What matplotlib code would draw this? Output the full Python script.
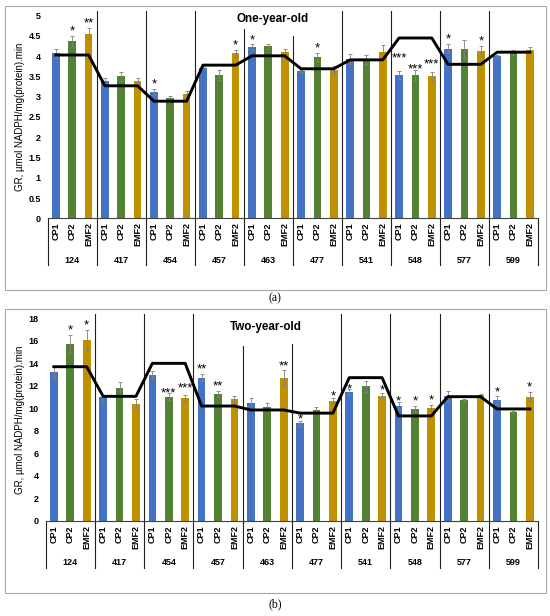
import numpy as np
import matplotlib
matplotlib.use("Agg")
import matplotlib.pyplot as plt
import matplotlib.transforms as mtransforms
from matplotlib.patches import Rectangle

plt.rcParams["font.family"] = ["Liberation Sans", "DejaVu Sans"]

groups = ["124", "417", "454", "457", "463", "477", "541", "548", "577", "599"]
treatments = ["CP1", "CP2", "EMF2"]
colors = ["#4472C4", "#548235", "#BF9000"]
ylabel = "GR, µmol NADPH/mg(protein).min"

# one-year-old
one_cp1 = [4.07, 3.40, 3.12, 3.71, 4.22, 3.63, 3.94, 3.54, 4.19, 4.00]
one_cp2 = [4.38, 3.50, 2.97, 3.53, 4.24, 3.99, 3.92, 3.53, 4.17, 4.09]
one_emf2 = [4.56, 3.39, 3.06, 4.07, 4.10, 3.67, 4.11, 3.50, 4.13, 4.15]
one_cp1_err = [0.11, 0.07, 0.07, 0.02, 0.07, 0.03, 0.12, 0.10, 0.12, 0.03]
one_cp2_err = [0.12, 0.12, 0.05, 0.12, 0.05, 0.10, 0.10, 0.12, 0.22, 0.07]
one_emf2_err = [0.14, 0.08, 0.09, 0.08, 0.07, 0.10, 0.16, 0.12, 0.12, 0.08]
one_control = [4.03, 3.27, 2.89, 3.78, 4.01, 3.69, 3.91, 4.45, 3.80, 4.10]
one_cp1_sig = ["", "", "*", "", "*", "", "", "***", "*", ""]
one_cp2_sig = ["*", "", "", "", "", "*", "", "***", "", ""]
one_emf2_sig = ["**", "", "", "*", "", "", "", "***", "*", ""]

# two-year-old
two_cp1 = [13.2, 10.98, 12.94, 12.73, 10.45, 8.67, 11.46, 10.24, 11.13, 10.72]
two_cp2 = [15.72, 11.78, 11.04, 11.28, 10.15, 9.86, 11.96, 9.95, 10.75, 9.65]
two_emf2 = [16.1, 10.42, 10.9, 10.8, 12.67, 10.69, 11.13, 10.04, 11.16, 11.04]
two_cp1_err = [0.5, 0.2, 0.35, 0.33, 0.45, 0.25, 0.24, 0.3, 0.45, 0.35]
two_cp2_err = [0.77, 0.56, 0.3, 0.3, 0.3, 0.27, 0.5, 0.3, 0.1, 0.1]
two_emf2_err = [0.9, 0.38, 0.3, 0.3, 0.7, 0.25, 0.25, 0.3, 0.15, 0.4]
two_control = [13.7, 11.07, 14.0, 10.21, 9.86, 9.58, 12.73, 9.33, 11.04, 9.95]
two_cp1_sig = ["", "", "", "**", "", "*", "*", "*", "", "*"]
two_cp2_sig = ["*", "", "***", "**", "", "", "", "*", "", ""]
two_emf2_sig = ["*", "", "***", "", "**", "*", "*", "*", "", "*"]

W, H = 550, 616


def draw_panel(fig, rect, ymax, ystep, series, errors, sigs, control, title,
               title_x, title_y, sep_low, star_lift):
    ax = fig.add_axes(rect)
    n = len(groups) * 3
    for k in range(3):
        xs = np.arange(len(groups)) * 3 + k
        ax.bar(xs, series[k], width=0.47, color=colors[k], zorder=2)
        ax.errorbar(xs, series[k], yerr=errors[k], fmt="none", ecolor="#808080",
                    elinewidth=0.6, capsize=1.5, capthick=0.6, zorder=3)
        for g, (xi, m, e, s) in enumerate(zip(xs, series[k], errors[k], sigs[k])):
            if s:
                ax.annotate(s, (xi, m + e), xytext=(0, 1.0 + star_lift.get((k, g), 0)),
                            textcoords="offset points", ha="center", va="baseline",
                            fontsize=9.5)
    ax.plot(np.arange(n), np.repeat(control, 3), color="black", lw=2.1, zorder=4)

    ax.set_xlim(-0.5, n - 0.5)
    ax.set_ylim(0, ymax)
    ticks = np.arange(0, ymax + ystep / 2, ystep)
    ax.set_yticks(ticks)
    ax.set_yticklabels([f"{t:g}" for t in ticks], fontsize=6.5, fontweight="bold")
    ax.set_xticks(np.arange(n))
    ax.set_xticklabels(treatments * len(groups), rotation=90, fontsize=6.5,
                       fontweight="bold")
    ax.tick_params(axis="both", length=0)
    ax.tick_params(axis="y", pad=5)
    ax.tick_params(axis="x", pad=3)
    for side in ["left", "top", "right"]:
        ax.spines[side].set_visible(False)
    ax.spines["bottom"].set_color("#404040")
    ax.spines["bottom"].set_linewidth(0.8)

    trans = mtransforms.blended_transform_factory(ax.transData, ax.transAxes)
    sep_bottom = -0.231
    for i, name in enumerate(groups):
        ax.text(i * 3 + 1, -0.207, name, transform=trans, ha="center", va="center",
                fontsize=6.5, fontweight="bold")
    for i in range(len(groups) + 1):
        b = i * 3 - 0.5
        if i == 0 or i == len(groups):
            top = 0
        else:
            top = sep_low.get(i, ymax * 1.022) / ymax
        ax.plot([b, b], [top, sep_bottom], transform=trans, color="#202020",
                lw=0.8, clip_on=False, zorder=1)

    ax.text(title_x, title_y, title, transform=ax.transAxes, ha="center",
            va="center", fontsize=8.4, fontweight="bold")
    return ax


fig = plt.figure(figsize=(W / 100, H / 100), dpi=100)

for y0 in [290, 593]:
    fig.patches.append(Rectangle((5 / W, 1 - y0 / H), 541 / W, 284 / H,
                                 transform=fig.transFigure, fill=False,
                                 ec="#a6a6a6", lw=0.8))

ax1 = draw_panel(fig, [47.7 / W, 1 - 218.3 / H, 490.3 / W, 202.6 / H], 5, 0.5,
                 [one_cp1, one_cp2, one_emf2],
                 [one_cp1_err, one_cp2_err, one_emf2_err],
                 [one_cp1_sig, one_cp2_sig, one_emf2_sig],
                 one_control, "One-year-old", 0.458, 0.985,
                 {4: 4.67, 5: 4.5}, {(0, 7): 5.5, (1, 7): -2.7, (2, 7): 2.0})
fig.text(20 / W, 1 - 117 / H, ylabel, rotation=90, ha="center", va="center",
         fontsize=7)

ax2 = draw_panel(fig, [45.7 / W, 1 - 521 / H, 492.3 / W, 202.7 / H], 18, 2,
                 [two_cp1, two_cp2, two_emf2],
                 [two_cp1_err, two_cp2_err, two_emf2_err],
                 [two_cp1_sig, two_cp2_sig, two_emf2_sig],
                 two_control, "Two-year-old", 0.4465, 0.9586,
                 {4: 15.5, 5: 15.7},
                 {(0, 5): -2.0, (0, 6): -3.5, (2, 6): -1.5, (0, 7): -2.5,
                  (1, 2): -3.0, (2, 2): 1.5, (2, 5): -2.5})
fig.text(20 / W, 1 - 420 / H, ylabel, rotation=90, ha="center", va="center",
         fontsize=7)

fig.text(0.5, 1 - 298 / H, "(a)", ha="center", va="center", fontsize=8.5,
         family="Liberation Serif")
fig.text(0.5, 1 - 604 / H, "(b)", ha="center", va="center", fontsize=8.5,
         family="Liberation Serif")

fig.savefig("out.png", dpi=100)
